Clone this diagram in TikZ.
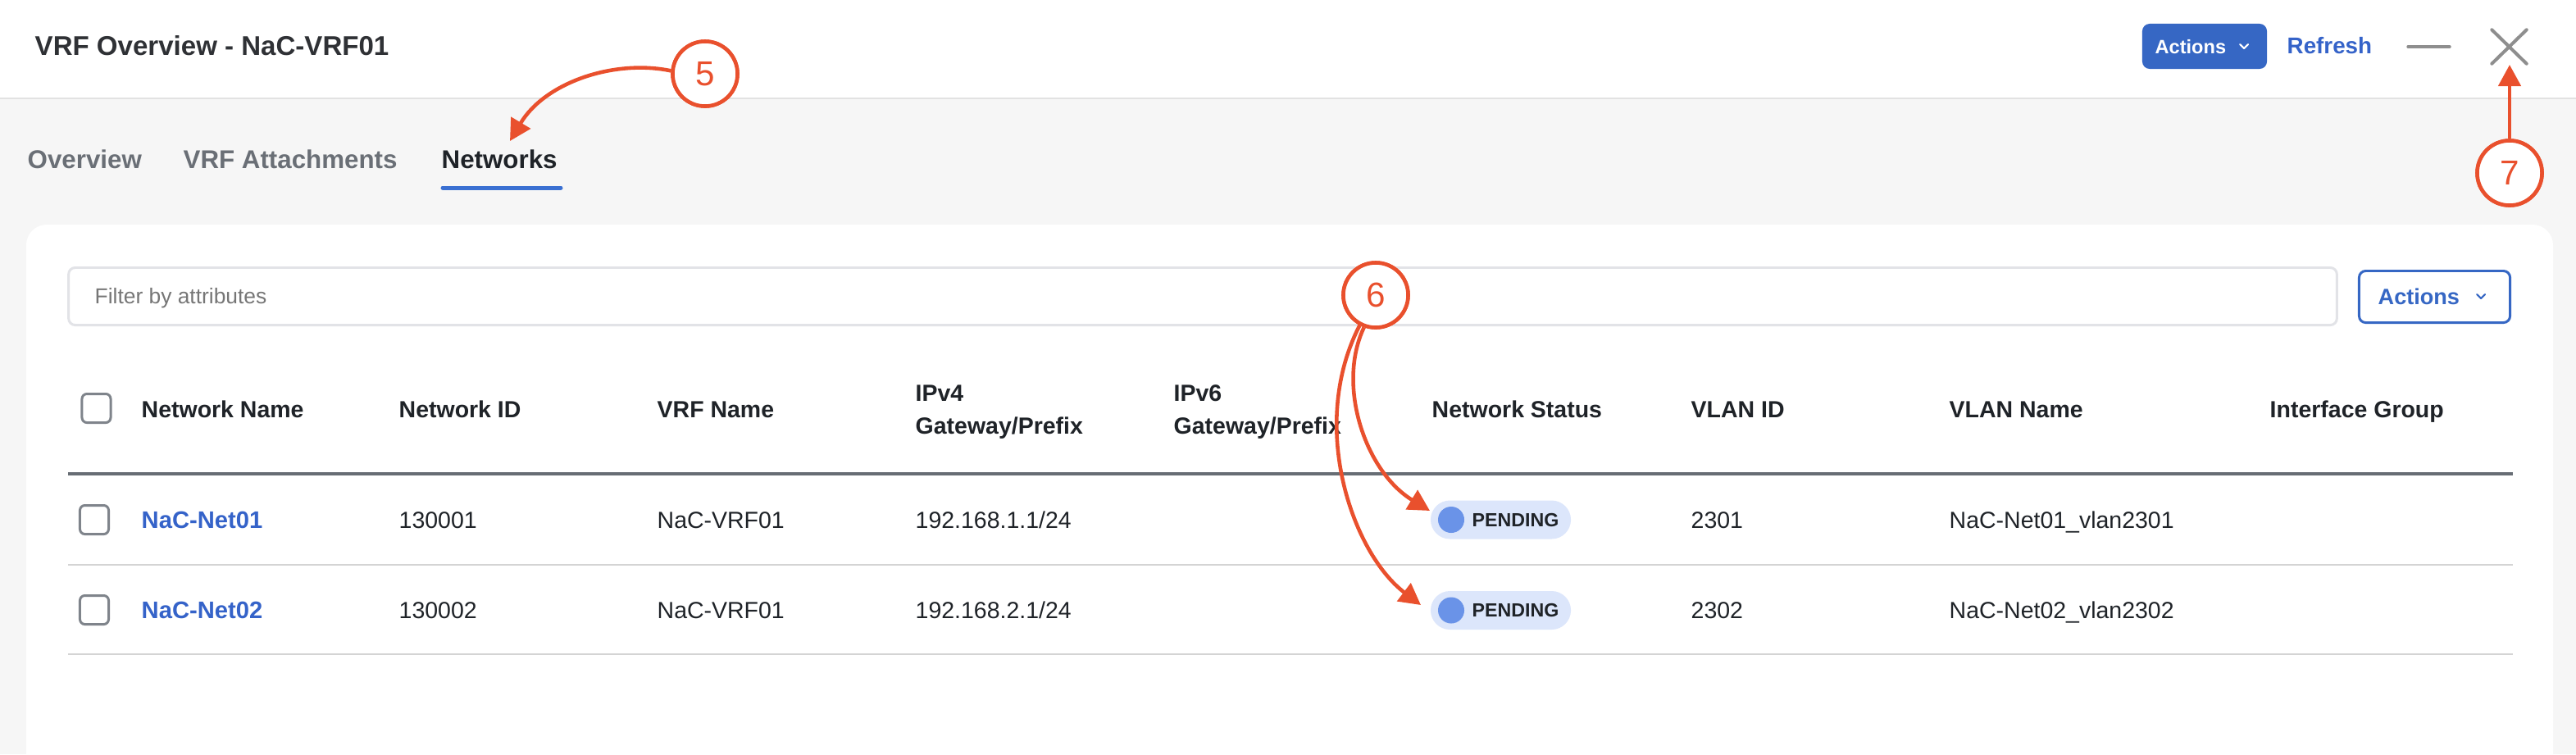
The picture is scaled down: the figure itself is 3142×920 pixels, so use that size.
\documentclass[tikz,border=0pt]{standalone}
\usepackage{fontspec}
\setmainfont{Liberation Sans}
\usetikzlibrary{arrows.meta}
\newcommand\fsz[1]{\fontsize{#1}{#1}\selectfont}
\definecolor{orng}{HTML}{E9502D}
\definecolor{ink}{HTML}{1F2328}
\definecolor{titleink}{HTML}{2F3135}
\definecolor{tabgray}{HTML}{6A6F76}
\definecolor{linkblue}{HTML}{3563C9}
\definecolor{btnblue}{HTML}{3667C4}
\definecolor{tabblue}{HTML}{3A70D2}
\definecolor{rowline}{HTML}{D4D4D4}
\definecolor{hdrline}{HTML}{676D74}
\definecolor{boxgray}{HTML}{7F848B}
\definecolor{filterline}{HTML}{E2E3E7}
\definecolor{placeholder}{HTML}{767676}
\definecolor{pillbg}{HTML}{DCE6FB}
\definecolor{dotblue}{HTML}{6A93E8}
\definecolor{pagebg}{HTML}{F6F6F6}
\definecolor{icongray}{HTML}{8E8E8E}
\definecolor{sepline}{HTML}{E2E2E2}
\tikzset{
  txt/.style={inner sep=0pt, anchor=base west, text=ink, font=\fsz{8.1pt}},
  hdr/.style={txt, font=\fsz{8.1pt}\bfseries},
  link/.style={txt, font=\fsz{8.3pt}\bfseries, text=linkblue},
  tab/.style={txt, font=\fsz{8.9pt}\bfseries, text=tabgray},
  callout/.style={circle, draw=orng, line width=1.3pt, fill=white, minimum size=0.79cm, inner sep=0pt, text=orng, font=\fsz{12pt}},
  pointer/.style={draw=orng, line width=1.3pt, -{Triangle[length=2.6mm,width=2.7mm]}},
  chk/.style={draw=boxgray, line width=0.85pt, rounded corners=0.6mm, minimum size=3.5mm, inner sep=0pt},
  pill/.style={fill=pillbg, rounded corners=2.35mm, minimum width=1.71cm, minimum height=4.7mm, inner sep=0pt},
  dot/.style={circle, fill=dotblue, minimum size=3.2mm, inner sep=0pt},
  pilltext/.style={txt, font=\fsz{6.6pt}\bfseries},
  icon/.style={draw=icongray, line width=1.14pt, line cap=round},
}
\begin{document}
\begin{tikzpicture}[x=0.01cm,y=-0.01cm]
\useasboundingbox (0,0) rectangle (3142,920);
\clip (0,0) rectangle (3142,920);
% backgrounds
\fill[pagebg] (0,120) rectangle (3142,920);
\fill[white] (0,0) rectangle (3142,120);
\draw[sepline, line width=0.6pt] (0,120) -- (3142,120);
% card
\fill[white, rounded corners=2.5mm] (32,274) rectangle (3114,1000);

% header bar
\node[txt, font=\fsz{9.4pt}\bfseries, text=titleink] (title) at (42,67) {VRF Overview - NaC-VRF01};
\node[fill=btnblue, rounded corners=0.9mm, minimum width=1.52cm, minimum height=0.55cm, inner sep=0pt] (hact) at (2689,56.5) {};
\node[txt, font=\fsz{6.7pt}\bfseries, text=white] (hacttxt) at (2628,65) {Actions};
\draw[white, line width=0.6pt, line cap=round, line join=round] (2732,54) -- (2737,59) -- (2742,54);
\node[txt, font=\fsz{7.9pt}\bfseries, text=linkblue] (refresh) at (2789,65) {Refresh};
\node[minimum width=0.49cm, minimum height=0.1cm, inner sep=0pt] (minb) at (2962.5,57) {};
\draw[icon] (minb.west) -- (minb.east);
\node[minimum width=0.41cm, minimum height=0.40cm, inner sep=0pt] (closex) at (3060.5,57) {};
\draw[icon] (closex.north west) -- (closex.south east);
\draw[icon] (closex.south west) -- (closex.north east);

% tabs
\node[tab] (tabov) at (33,205) {Overview};
\node[tab] (tabatt) at (223,205) {VRF Attachments};
\node[tab, text=ink] (tabnet) at (538,205) {Networks};
\draw[tabblue, line width=1.42pt, line cap=round] (540,229) -- (684,229);

% filter and actions
\node[draw=filterline, line width=0.85pt, rounded corners=0.8mm, minimum width=27.65cm, minimum height=0.70cm, inner sep=0pt] (filter) at (1467,361.5) {};
\node[txt, font=\fsz{7.5pt}, text=placeholder] (filtertxt) at (115,370) {Filter by attributes};
\node[draw=btnblue, line width=0.85pt, rounded corners=0.8mm, minimum width=1.84cm, minimum height=0.63cm, inner sep=0pt] (tact) at (2969.5,362) {};
\node[txt, font=\fsz{7.7pt}\bfseries, text=btnblue] (tacttxt) at (2900,371) {Actions};
\draw[btnblue, line width=0.6pt, line cap=round, line join=round] (3021,359) -- (3026,364) -- (3031,359);

% table header
\node[chk] (chkh) at (117.5,498) {};
\node[hdr] (hname) at (172,509) {Network Name};
\node[hdr] (hid) at (486,509) {Network ID};
\node[hdr] (hvrf) at (801,509) {VRF Name};
\node[hdr] (hv4a) at (1116,489) {IPv4};
\node[hdr] (hv4b) at (1116,529) {Gateway/Prefix};
\node[hdr] (hv6a) at (1431,489) {IPv6};
\node[hdr] (hv6b) at (1431,529) {Gateway/Prefix};
\node[hdr] (hstat) at (1746,509) {Network Status};
\node[hdr] (hvid) at (2062,509) {VLAN ID};
\node[hdr] (hvname) at (2377,509) {VLAN Name};
\node[hdr] (hig) at (2768,509) {Interface Group};
\draw[hdrline, line width=1.14pt] (83,578) -- (3065,578);

% row 1
\node[chk] (chk1) at (115,634) {};
\node[link] (n1) at (172,644) {NaC-Net01};
\node[txt] (id1) at (486,644) {130001};
\node[txt] (vrf1) at (801,644) {NaC-VRF01};
\node[txt] (ip1) at (1116,644) {192.168.1.1/24};
\node[pill] (p1) at (1830.5,634) {};
\node[dot] (d1) at (1770,634) {};
\node[pilltext] (pt1) at (1795,642) {PENDING};
\node[txt] (vl1) at (2062,644) {2301};
\node[txt] (vn1) at (2377,644) {NaC-Net01\_vlan2301};
\draw[rowline, line width=0.57pt] (83,689) -- (3065,689);

% row 2
\node[chk] (chk2) at (115,744) {};
\node[link] (n2) at (172,754) {NaC-Net02};
\node[txt] (id2) at (486,754) {130002};
\node[txt] (vrf2) at (801,754) {NaC-VRF01};
\node[txt] (ip2) at (1116,754) {192.168.2.1/24};
\node[pill] (p2) at (1830.5,744.5) {};
\node[dot] (d2) at (1770,744.5) {};
\node[pilltext] (pt2) at (1795,752.5) {PENDING};
\node[txt] (vl2) at (2062,754) {2302};
\node[txt] (vn2) at (2377,754) {NaC-Net02\_vlan2302};
\draw[rowline, line width=0.57pt] (83,798) -- (3065,798);

% callouts
\coordinate (tip5) at (622,172);
\coordinate (tip6a) at (1744,623);
\coordinate (tip6b) at (1733,738);
\coordinate (tip7) at (3061,79);
\node[callout] (c5) at (860,90) {5};
\node[callout] (c6) at (1678,360) {6};
\node[callout] (c7) at (3061,211) {7};
\draw[pointer] (c5.175) .. controls (750,72) and (665,100) .. (tip5);
\draw[pointer] (c6.250) .. controls (1630,470) and (1665,575) .. (tip6a);
\draw[pointer] (c6.242) .. controls (1595,520) and (1650,675) .. (tip6b);
\draw[pointer] (c7.north) -- (tip7);
\node[callout] at (c5) {5};
\node[callout] at (c6) {6};
\node[callout] at (c7) {7};
\end{tikzpicture}
\end{document}
